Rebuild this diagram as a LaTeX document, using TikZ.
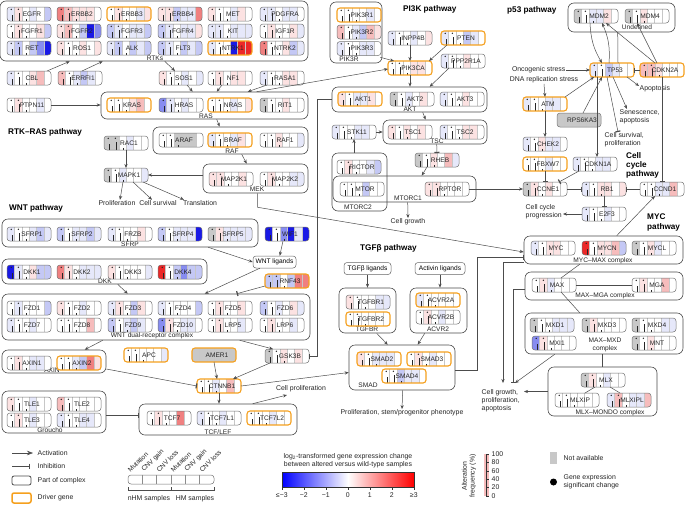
\documentclass[tikz,border=0pt]{standalone}
\usepackage{fontspec}
\setmainfont{Liberation Sans}
\usetikzlibrary{arrows.meta,calc,fit}
\colorlet{cw}{white}
\definecolor{cr1}{RGB}{252,226,226}
\definecolor{cr2}{RGB}{246,188,188}
\definecolor{cr3}{RGB}{240,128,128}
\definecolor{cr4}{RGB}{236,40,40}
\definecolor{cb1}{RGB}{230,232,250}
\definecolor{cb2}{RGB}{196,200,245}
\definecolor{cb3}{RGB}{135,140,240}
\definecolor{cb4}{RGB}{25,25,230}
\definecolor{cg}{RGB}{200,200,200}
\definecolor{drv}{RGB}{245,160,30}
\tikzset{
 gnorm/.style={draw=black!55, line width=0.5pt, rounded corners=3pt},
 gdrv/.style={draw=drv, line width=1.1pt, rounded corners=3pt},
 sepl/.style={draw=black!22, line width=0.3pt},
 gmark/.style={draw=black!85, line width=0.35pt},
 glbl/.style={font=\fontsize{6.6}{7}\selectfont, inner sep=0pt, text=black!85},
 grpbox/.style={draw=black!70, line width=0.6pt, rounded corners=6pt, inner sep=0pt},
 gl/.style={font=\fontsize{6.6}{7.4}\selectfont, inner sep=0pt, text=black!85, align=center},
 txt/.style={font=\fontsize{6.9}{7.8}\selectfont, inner sep=0.5pt, text=black!85, align=left},
 ttl/.style={font=\bfseries\fontsize{8.2}{9.2}\selectfont, inner sep=0pt, align=left},
 lig/.style={draw=black!60, line width=0.5pt, rounded corners=3pt, font=\fontsize{6.6}{7}\selectfont, inner sep=1.5pt, minimum height=12pt},
 act/.style={draw=black!70, line width=0.5pt, -{Stealth[length=4pt,width=3.2pt]}},
 inh/.style={draw=black!70, line width=0.5pt, -{Bar[width=5pt,line width=1.2pt]}},
 plainln/.style={draw=black!70, line width=0.5pt},
}
\newif\ifgmarks \gmarkstrue
% [style]{name}{x}{y}{six cell colours}
\newcommand\gene[5][gnorm]{%
  \node[minimum width=44pt, minimum height=14pt, inner sep=0pt, outer sep=0pt, anchor=north west] (#2) at (#3,#4) {};
  \begin{scope}
    \clip[rounded corners=3pt] (#2.north west) rectangle (#2.south east);
    \foreach \gc [count=\i from 0] in {#5}{\fill[fill=c\gc] ($(#2.north west)+(\i*44/6,0)$) rectangle ++(44/6,14);}
    \foreach \i in {1,...,5}{\draw[sepl] ($(#2.north west)+(\i*44/6,0)$) -- ++(0,14);}
    \ifgmarks
      \fill[black!85] ($(#2.north west)+(4.2,2.3)$) circle (0.75);
      \fill[black!85] ($(#2.north west)+(11.4,2.3)$) circle (0.75);
      \draw[gmark] ($(#2.north west)+(5.2,14)$) -- ++(0,-6);
      \draw[gmark] ($(#2.north west)+(12.6,14)$) -- ++(0,-8.5);
      \draw[gmark] ($(#2.north west)+(19.5,14)$) -- ++(0,-2.5);
    \fi
  \end{scope}
  \draw[#1] (#2.north west) rectangle (#2.south east);
  \node[glbl] at ($(#2.center)+(3,0)$) {#2};
}
\newcommand\grp[5]{\node[grpbox, fit={(#2,#3) (#4,#5)}] (#1) {};}
\begin{document}
\begin{tikzpicture}[x=1pt,y=-1pt]
\fill[white] (0,0) rectangle (685,504);
\useasboundingbox (0,0) rectangle (685,504);
% ---------------- group boxes
\grp{gRTK}{0}{1}{308}{61}
\grp{gRAS}{101}{92}{308}{119}
\grp{gRAF}{153}{127}{308}{154}
\grp{gMEK}{203}{164}{308}{193}
\grp{gPIK3R}{330}{2}{382}{63}
\grp{gAKT}{332}{87}{487}{112}
\grp{gTSC}{383}{120}{487}{144}
\grp{gMTORC2}{332}{153}{387}{211}
\grp{gMTORC1}{333}{176}{476}{202}
\grp{gMDM}{568}{3}{675}{32}
\grp{gMYCMAX}{524}{236}{683}{264}
\grp{gMAXMGA}{525}{272}{683}{300}
\grp{gMAXMXD}{525}{313}{683}{354}
\grp{gMLX}{548}{367}{657}{416}
\grp{gSFRP}{2}{219}{258}{247}
\grp{gDKK}{2}{259}{207}{284}
\grp{gFZD}{2}{294}{310}{340}
\grp{gAXIN}{2}{350}{106}{373}
\grp{gGRO}{2}{391}{106}{433}
\grp{gTCF}{139}{404}{297}{435}
\grp{gTGFBR}{339}{288}{396}{333}
\grp{gACVR}{410}{288}{467}{333}
\grp{gSMAD}{349}{345}{455}{390}
% group labels
\node[gl] (lRTK) at (155,58) {RTKs};
\node[gl] (lRAS) at (206,116) {RAS};
\node[gl] (lRAF) at (232,151) {RAF};
\node[gl] (lMEK) at (257,189.5) {MEK};
\node[gl] (lPIK3R) at (349,59.5) {PIK3R};
\node[gl] (lAKT) at (410,109) {AKT};
\node[gl] (lTSC) at (437,141) {TSC};
\node[gl] (lMTORC2) at (358,207) {MTORC2};
\node[gl] (lMTORC1) at (408,198) {MTORC1};
\node[gl] (lMDM) at (637,27.5) {Undefined};
\node[gl] (lMYCMAX) at (603,260.5) {MYC–MAX complex};
\node[gl] (lMAXMGA) at (605,296) {MAX–MGA complex};
\node[gl] (lMAXMXD) at (605,345) {MAX–MXD\\complex};
\node[gl] (lMLX) at (610,412.5) {MLX–MONDO complex};
\node[gl] (lSFRP) at (130,244) {SFRP};
\node[gl] (lDKK) at (105,281) {DKK};
\node[gl] (lFZD) at (152,336) {WNT dual-receptor complex};
\node[gl] (lAXIN) at (52,370.5) {AXIN};
\node[gl] (lGRO) at (50,430) {Groucho};
\node[gl] (lTCF) at (218,432) {TCF/LEF};
\node[gl] (lTGFBR) at (367,329.5) {TGFBR};
\node[gl] (lACVR) at (438,329.5) {ACVR2};
\node[gl] (lSMAD) at (368,385.5) {SMAD};
% ---------------- titles
\node[ttl, anchor=west] (tt1) at (8,132) {RTK–RAS pathway};
\node[ttl, anchor=west] (tt2) at (9,208) {WNT pathway};
\node[ttl, anchor=west] (tt3) at (403,9) {PI3K pathway};
\node[ttl, anchor=west] (tt4) at (507,10) {p53 pathway};
\node[ttl, anchor=west] (tt5) at (360,248) {TGFβ pathway};
\node[ttl, anchor=north west] (tt6) at (626,152) {Cell\\cycle\\pathway};
\node[ttl, anchor=north west] (tt7) at (647,214) {MYC\\pathway};
% ---------------- RTK-RAS genes
\gene{EGFR}{7}{7}{b1,r1,w,b1,w,b2}
\gene{ERBB2}{57}{7}{r3,r2,r1,r1,r1,w}
\gene[gdrv]{ERBB3}{107}{7}{w,r1,w,w,b1,r1}
\gene{ERBB4}{158}{7}{r1,r1,b2,b1,b1,r3}
\gene{MET}{208}{7}{r1,w,w,b1,r1,w}
\gene{PDGFRA}{260}{7}{b1,b1,w,b1,b1,w}
\gene{FGFR1}{7}{24}{w,r1,w,w,r1,b2}
\gene{FGFR2}{57}{24}{r1,r2,w,b2,b4,b3}
\gene{FGFR3}{107}{24}{b2,b1,w,b1,b1,b2}
\gene{FGFR4}{158}{24}{b2,b1,w,b1,b1,r1}
\gene{KIT}{208}{24}{b1,b1,w,b1,b1,b1}
\gene{IGF1R}{260}{24}{w,r1,w,w,r1,b1}
\gene{RET}{7}{41}{b1,b2,w,b2,b3,b4}
\gene{ROS1}{57}{41}{r1,w,w,r1,w,r1}
\gene{ALK}{107}{41}{b1,b2,w,b2,b1,b2}
\gene{FLT3}{158}{41}{b2,b1,w,b2,b1,b2}
\gene[gdrv]{NTRK1}{208}{41}{b1,w,w,b4,r4,r4}
\gene{NTRK2}{260}{41}{r3,w,w,r1,b2,b1}
\gene{CBL}{7}{71}{b1,w,w,r1,r2,w}
\gene{ERRFI1}{58}{71}{r2,w,b1,b2,b1,w}
\gene{SOS1}{159}{71}{r1,w,w,b1,w,b1}
\gene{NF1}{208}{71}{w,r1,w,r1,r1,w}
\gene{RASA1}{260}{71}{b1,w,w,r1,r1,w}
\gene{PTPN11}{7}{98}{w,r1,w,w,b1,w}
\gene[gdrv]{KRAS}{107}{98}{w,w,w,r1,r2,w}
\gene{HRAS}{159}{98}{b3,b1,w,b1,w,w}
\gene[gdrv]{NRAS}{208}{98}{w,w,w,b1,w,r1}
\gene{RIT1}{260}{98}{g,w,w,r1,w,w}
\gene{ARAF}{159}{133}{w,w,g,g,g,w}
\gene[gdrv]{BRAF}{208}{133}{b1,w,w,b1,r1,w}
\gene{RAF1}{260}{133}{w,w,r1,w,w,b1}
\gene{RAC1}{104}{136}{g,g,w,b1,w,w}
\gene{MAP2K1}{209}{172}{r1,r1,w,w,r1,w}
\gene{MAP2K2}{260}{172}{w,r1,w,w,b1,b1}
\gene{MAPK1}{104}{168}{g,w,b1,w,w,b1}
% ---------------- PI3K genes
\gene[gdrv]{PIK3R1}{337}{8}{w,w,w,w,b1,w}
\gene{PIK3R2}{337}{25}{r2,w,b1,b2,r2,r1}
\gene{PIK3R3}{337}{41.5}{b1,w,w,b1,b1,w}
\gene{INPP4B}{388}{31}{b1,w,w,b1,w,r1}
\gene[gdrv]{PTEN}{441}{31}{b1,w,w,b2,b1,w}
\gene[gdrv]{PIK3CA}{388}{61}{w,w,w,r1,r1,w}
\gene{PPP2R1A}{441}{54}{b1,w,w,r1,w,w}
\gene[gdrv]{AKT1}{338}{92}{r1,w,b1,b1,r1,w}
\gene{AKT2}{390}{92}{g,w,b1,w,r1,w}
\gene{AKT3}{440}{92}{b1,w,w,r1,w,w}
\gene{STK11}{332}{125}{b1,w,w,b1,b1,w}
\gene{TSC1}{388}{125}{r1,w,r1,w,r1,w}
\gene{TSC2}{440}{125}{b1,w,w,r1,r1,w}
\gene{RHEB}{415}{153}{g,w,r1,w,r2,b1}
\gene{RICTOR}{337}{160}{w,r1,w,w,b1,b2}
\gene{MTOR}{340}{182}{w,w,w,b2,w,w}
\gene{RPTOR}{425}{182}{r1,r1,w,w,w,w}
% ---------------- p53 / cell cycle genes
\gene{MDM2}{574}{9}{g,w,b1,b1,r1,w}
\gene{MDM4}{625}{9}{g,w,r1,w,w,w}
\gene[gdrv]{TP53}{590}{63}{b1,w,b2,b1,w,w}
\gene[gdrv]{CDKN2A}{640}{63}{r2,r2,r1,w,w,w}
\gene[gdrv]{ATM}{523}{97}{b1,w,w,b1,b1,w}
\gmarksfalse
\gene{RPS6KA3}{557}{113}{g,g,g,g,g,g}
\gmarkstrue
\gene{CHEK2}{523}{137}{b1,w,r1,b1,b1,w}
\gene[gdrv]{FBXW7}{523}{157}{w,w,w,b1,w,w}
\gene{CDKN1A}{573}{157}{b1,w,w,b1,b1,w}
\gene{CCNE1}{523}{182}{g,r1,w,r1,w,w}
\gene{RB1}{582}{182}{b1,w,r1,r1,w,r1}
\gene{CCND1}{640}{182}{w,w,b1,b1,r2,w}
\gene{E2F3}{582}{207}{b1,w,w,b1,w,w}
% ---------------- MYC genes
\gene{MYC}{531}{241}{b1,w,r1,r1,w,w}
\gene{MYCN}{582}{241}{r4,w,r1,r1,r2,b2}
\gene{MYCL}{632}{241}{g,w,r1,b1,w,w}
\gene{MAX}{532}{278}{w,r1,b1,w,w,w}
\gene{MGA}{632}{278}{w,r1,w,w,r2,w}
\gene{MXD1}{530}{318}{g,w,w,b1,b1,b1}
\gene{MXD3}{582}{318}{g,r1,w,w,w,w}
\gene{MXD4}{632}{318}{g,w,w,w,b1,b1}
\gene{MXI1}{532}{336}{b3,r1,w,w,w,w}
\gene{MNT}{632}{336}{g,w,r1,w,w,w}
\gene{MLX}{581}{373}{g,r1,w,b1,w,w}
\gene{MLXIP}{555}{393}{w,w,w,w,w,w}
\gene{MLXIPL}{607}{393}{b1,r2,w,b1,b1,r2}
% ---------------- WNT genes
\gene{SFRP1}{7}{227}{b1,w,w,b1,b2,b1}
\gene{SFRP2}{57}{227}{b2,w,b1,b1,b2,b1}
\gene{FRZB}{108}{227}{b1,w,w,w,r1,w}
\gene{SFRP4}{158}{227}{b2,w,b1,b1,b1,b4}
\gene{SFRP5}{208}{227}{g,r1,b1,b1,b1,b1}
\gene{WIF1}{265}{227}{b4,w,b3,b4,b1,b4}
\gene{DKK1}{7}{265}{b4,b1,w,r1,b2,b2}
\gene{DKK2}{57}{265}{r3,r1,w,b1,b1,b1}
\gene{DKK3}{108}{265}{r1,w,w,w,w,b1}
\gene{DKK4}{158}{265}{r4,w,b2,b3,b2,b2}
\gene[gdrv]{RNF43}{265}{274}{b2,b2,w,b2,r3,r3}
\gene{FZD1}{7}{301}{w,b1,w,w,w,b2}
\gene{FZD2}{57}{301}{r1,w,w,b1,w,w}
\gene{FZD3}{108}{301}{b1,r1,w,b2,r1,w}
\gene{FZD4}{158}{301}{b1,w,w,w,w,b2}
\gene{FZD5}{208}{301}{w,r1,w,w,r1,w}
\gene{FZD6}{260}{301}{b2,w,b1,w,r1,b1}
\gene{FZD7}{7}{318}{b1,w,w,b1,w,w}
\gene{FZD8}{57}{318}{w,w,w,w,r2,w}
\gene{FZD9}{108}{318}{b2,w,b1,b2,b1,w}
\gene{FZD10}{158}{318}{b3,r1,w,b1,b1,w}
\gene{LRP5}{208}{318}{w,r1,w,w,b1,w}
\gene{LRP6}{260}{318}{w,r1,w,w,b1,w}
\gene{AXIN1}{7}{356}{w,r1,w,b1,b1,w}
\gene[gdrv]{AXIN2}{57}{356}{w,w,b1,b2,r3,r1}
\gene[gdrv]{APC}{124}{348}{w,w,w,w,w,b1}
\gmarksfalse
\gene[gdrv]{AMER1}{192}{348}{g,g,g,g,g,g}
\gmarkstrue
\gene{GSK3B}{265}{349}{g,w,r1,w,r1,w}
\gene[gdrv]{CTNNB1}{197}{379}{w,w,b1,w,r2,w}
\gene{TLE1}{7}{397}{r1,w,w,b1,w,w}
\gene{TLE2}{57}{397}{r2,w,w,w,w,w}
\gene{TLE3}{7}{413}{w,r1,w,b1,w,w}
\gene{TLE4}{57}{413}{b1,w,w,b1,b1,w}
\gene{TCF7}{147}{411}{w,r1,w,w,r3,w}
\gene{TCF7L1}{197}{411}{b1,w,w,b1,w,w}
\gene[gdrv]{TCF7L2}{247}{411}{w,w,w,b1,w,w}
% ---------------- TGFb genes
\gene{TGFBR1}{346}{295}{r1,w,w,w,b1,b1}
\gene[gdrv]{TGFBR2}{346}{312}{w,w,w,w,w,w}
\gene[gdrv]{ACVR2A}{416}{293}{b1,w,w,w,w,w}
\gene{ACVR2B}{416}{310}{w,r1,w,b1,w,w}
\gene[gdrv]{SMAD2}{357}{352}{r1,w,b1,b1,b1,w}
\gene[gdrv]{SMAD3}{407}{352}{w,r1,w,b1,w,w}
\gene[gdrv]{SMAD4}{382}{369}{w,w,b2,b1,b1,w}
% ---------------- plain nodes / texts
\node[lig, minimum width=43pt] (WNTlig) at (274.5,262) {WNT ligands};
\node[lig, minimum width=47pt] (TGFlig) at (367.5,268.5) {TGFβ ligands};
\node[lig, minimum width=50pt] (ACTlig) at (440,268.5) {Activin ligands};
\node[txt] (tProlif) at (117,203) {Proliferation};
\node[txt] (tSurv) at (158,203) {Cell survival};
\node[txt] (tTrans) at (200,203) {Translation};
\node[txt] (tGrowth) at (408,222) {Cell growth};
\node[txt, anchor=east] (tOnc) at (566,70) {Oncogenic stress};
\node[txt] (tDNA) at (544,80) {DNA replication stress};
\node[txt, anchor=west] (tApop) at (639,89) {Apoptosis};
\node[txt, anchor=north west] (tSen) at (619,109) {Senescence,\\apoptosis};
\node[txt, anchor=north west] (tSurv2) at (604,132) {Cell survival,\\proliferation};
\node[txt, anchor=north west] (tCCP) at (525,204) {Cell cycle\\progression};
\node[txt, anchor=north west] (tCG) at (481,389) {Cell growth,\\proliferation,\\apoptosis};
\node[txt] (tCP) at (301,389) {Cell proliferation};
\node[txt] (tPSP) at (402,413) {Proliferation, stem/progenitor phenotype};
\coordinate (cCCP) at (563,214);
\coordinate (cCG1) at (524,391.5);
\coordinate (cCG2) at (515,383);
\coordinate (cCG3) at (503,383);
\coordinate (cCG4) at (513,383);
\coordinate (cCP) at (287,395);
% ---------------- connectors RTK-RAS
\draw[act] ($(CBL.north east)+(-4,0)$) -- ($(gRTK.south west)+(70,0)$);
\draw[act] ($(ERRFI1.north west)+(24,0)$) -- ($(gRTK.south west)+(103,0)$);
\draw[act] ($(gRTK.south west)+(165,0)$) -- ($(SOS1.north west)+(16,0)$);
\draw[act] (PTPN11.east) -- (PTPN11.east -| gRAS.west);
\draw[act] ($(SOS1.south west)+(28,0)$) -- ($(gRAS.north west)+(92,0)$);
\draw[act] ($(NF1.south west)+(14,0)$) -- ($(gRAS.north west)+(116,0)$);
\draw[act] ($(RASA1.south west)+(7,0)$) -- ($(gRAS.north west)+(147,0)$);
\draw[act] ($(gRAS.north west)+(156,0)$) -- ($(PIK3CA.west)+(0,1)$);
\draw[act] ($(gRAS.south west)+(116,0)$) -- ($(gRAF.north west)+(67,0)$);
\draw[act] (RAC1.south) -- (MAPK1.north);
\draw[act] ($(gRAF.south west)+(89,0)$) -- ($(gMEK.north west)+(44,0)$);
\draw[act] (MAPK1.east -| gMEK.west) -- (MAPK1.east);
\draw[act] ($(MAPK1.south west)+(19,0)$) -- ($(tProlif.north)+(3,0)$);
\draw[act] ($(MAPK1.south west)+(29,0)$) -- ($(tSurv.north)+(-6,0)$);
\draw[act] ($(MAPK1.south west)+(39,0)$) -- ($(tTrans.north)+(-16,0)$);
\draw[act] ($(gMEK.south west)+(55,0)$) -- ++(0,14) -- ($(gMYCMAX.west)+(0,2)$);
% ---------------- connectors PI3K
\draw[act] ($(gPIK3R.south east)+(-2,-6)$) -- ($(PIK3CA.north west)+(6,0)$);
\draw[act] (INPP4B.south) -- (PIK3CA.north);
\draw[act] ($(PTEN.south west)+(6,0)$) -- ($(PIK3CA.north east)+(-3,0)$);
\draw[act] (PIK3CA.south) -- (PIK3CA.south |- gAKT.north);
\draw[act] ($(PPP2R1A.south west)+(8,0)$) -- ($(gAKT.north west)+(98,0)$);
\draw[act] ($(gAKT.south west)+(91,0)$) -- ($(gTSC.north west)+(43,0)$);
\draw[act] (STK11.east) -- (STK11.east -| gTSC.west);
\draw[act] (STK11.south |- gMTORC2.north) -- (STK11.south);
\draw[inh] ($(gTSC.south west)+(54,0)$) -- ($(RHEB.north west)+(22,0)$);
\draw[act] ($(RHEB.south west)+(12,0)$) -- ($(gMTORC1.north west)+(89,0)$);
\draw[act] ($(gMTORC1.south west)+(75,0)$) -- (tGrowth.north);
\draw[act] (RPTOR.east) -- (CCNE1.west);
\draw[inh] (gAKT.west) -- ++(-14,0) |- (GSK3B.east);
% ---------------- connectors p53
\draw[act] ($(MDM2.south west)+(16,0)$) to[bend right=14] ($(TP53.north west)+(12,0)$);
\draw[act] ($(TP53.north west)+(19,0)$) to[bend right=14] ($(MDM2.south west)+(28,0)$);
\draw[plainln] ($(TP53.north west)+(28,0)$) -- ($(gMDM.south west)+(50,0)$);
\draw[act] ($(CDKN2A.north west)+(15,0)$) -- ($(MDM2.south east)+(-12,0)$);
\draw[act] ($(CDKN2A.north west)+(17,0)$) -- ($(MDM4.south west)+(12,0)$);
\draw[inh] (CDKN2A.west) -- (TP53.east);
\draw[inh] ($(CDKN2A.south west)+(22,0)$) -- ($(CCND1.north west)+(22,0)$);
\draw[act] (tOnc.east) -- (tOnc.east -| TP53.west);
\draw[act] (tDNA.south) -- (ATM.north);
\draw[act] ($(ATM.north east)+(-2,0)$) -- ($(TP53.south west)+(4,0)$);
\draw[act] (ATM.south) -- (CHEK2.north);
\draw[act] ($(RPS6KA3.north west)+(26,0)$) -- ($(TP53.south west)+(12,0)$);
\draw[act] ($(TP53.south west)+(7,0)$) -- ($(CDKN1A.north west)+(24,0)$);
\draw[inh] ($(TP53.south west)+(17,0)$) -- ($(tSurv2.north west)+(14,0)$);
\draw[act] ($(TP53.south west)+(23,0)$) -- ($(tSen.north west)+(8,0)$);
\draw[act] ($(TP53.south east)+(-7,0)$) -- ($(tApop.west)+(0,-3)$);
% ---------------- connectors cell cycle
\draw[inh] (FBXW7.south) -- (CCNE1.north);
\draw[inh] ($(CDKN1A.south west)+(6,0)$) -- ($(CCNE1.north east)+(-8,0)$);
\draw[inh] (CCNE1.east) -- (RB1.west);
\draw[inh] (CCND1.west) -- (RB1.east);
\draw[inh] (RB1.south) -- (E2F3.north);
\draw[act] (E2F3.west) -- (cCCP);
% ---------------- connectors MYC
\draw[act] ($(gMYCMAX.north west)+(93,0)$) -- ($(CCND1.south west)+(15,0)$);
\draw[plainln] ($(gMYCMAX.south west)+(56,0)$) -- ($(MAX.north east)+(-15,0)$);
\draw[plainln] ($(MAX.south east)+(-15,0)$) -- ($(gMAXMXD.north west)+(55,0)$);
\draw[plainln] (MAX.east) -- (MGA.west);
\draw[plainln] ($(gMAXMXD.south west)+(78,0)$) -- ($(gMLX.north west)+(55,0)$);
\draw[plainln] ($(MLX.south west)+(14,0)$) -- ($(MLXIP.north west)+(30,0)$);
\draw[plainln] ($(MLX.south west)+(29,0)$) -- ($(MLXIPL.north west)+(13,0)$);
\draw[act] (gMLX.west) -- (cCG1);
\draw[act] ($(gMAXMXD.south west)+(30,0)$) -- (cCG2);
\draw[act] ($(gMYCMAX.south west)+(0,-2)$) -| (cCG3);
\draw[inh] ($(gMAXMGA.west)+(0,3)$) -| (cCG4);
\draw[inh] ($(gSMAD.east)+(0,2.5)$) -- ++(22,0) |- ($(gMYCMAX.west)+(0,7)$);
% ---------------- connectors WNT
\draw[act] ($(gSFRP.south east)+(-50,0)$) -- (WNTlig.west);
\draw[act] ($(WIF1.south west)+(18,0)$) -- ($(WNTlig.north west)+(27,0)$);
\draw[act] ($(WNTlig.south west)+(7,0)$) -- ($(gFZD.north west)+(203,0)$);
\draw[act] ($(gDKK.south west)+(116,0)$) -- ($(gFZD.north west)+(126,0)$);
\draw[inh] ($(RNF43.south west)+(0,-2)$) -- ($(gFZD.north west)+(235,0)$);
\draw[act] ($(gFZD.south west)+(101,0)$) -- ($(gAXIN.north west)+(83,0)$);
\draw[act] ($(gFZD.south west)+(238,0)$) -- ($(GSK3B.north west)+(8,0)$);
\draw[inh] ($(gAXIN.east)+(0,7.5)$) -- (CTNNB1.west);
\draw[act] (AMER1.south) -- ($(CTNNB1.north west)+(20,0)$);
\draw[act] ($(GSK3B.south west)+(5,0)$) -- ($(CTNNB1.north east)+(-8,0)$);
\draw[act] (CTNNB1.south) -- (CTNNB1.south |- gTCF.north);
\draw[act] (CTNNB1.east) -- ($(gSMAD.west)+(0,5)$);
\draw[act] ($(gTCF.north west)+(114,0)$) -- (cCP);
\draw[inh] ($(gGRO.east)+(0,3)$) -- ($(gTCF.west)+(0,-4.5)$);
% ---------------- connectors TGFb
\draw[act] (TGFlig.south) -- (TGFlig.south |- gTGFBR.north);
\draw[act] (ACTlig.south) -- (ACTlig.south |- gACVR.north);
\draw[act] ($(gTGFBR.south west)+(38,0)$) -- ($(gSMAD.north west)+(39,0)$);
\draw[act] ($(gACVR.south west)+(15,0)$) -- ($(gSMAD.north west)+(69,0)$);
\draw[act] ($(gSMAD.south west)+(54,0)$) -- (tPSP.north);
% ---------------- legend
\coordinate (la1) at (12,453); \coordinate (la2) at (33,453);
\draw[act, -{Stealth[length=6pt,width=4.5pt]}] (la1) -- (la2);
\node[txt, anchor=west] (lgAct) at (37,453) {Activation};
\coordinate (li1) at (12,466); \coordinate (li2) at (30,466);
\draw[inh] (li1) -- (li2);
\node[txt, anchor=west] (lgInh) at (37,466) {Inhibition};
\node[draw=black!70, line width=0.8pt, rounded corners=2pt, fit={(12,476) (31,485)}, inner sep=0pt] (lgBox) {};
\node[txt, anchor=west] (lgBoxT) at (37,480.5) {Part of complex};
\node[draw=drv, line width=1.5pt, rounded corners=2pt, fit={(12,493) (31,503)}, inner sep=0pt] (lgDrv) {};
\node[txt, anchor=west] (lgDrvT) at (37,498) {Driver gene};
% strip
\node[draw=black!55, line width=0.5pt, rounded corners=3pt, fit={(128,475) (214,484)}, inner sep=0pt] (lgStrip) {};
\foreach \k in {1,...,5}{\draw[black!45, line width=0.4pt] ($(lgStrip.north west)+(\k*86/6,0)$) -- ++(0,9);}
\foreach \t [count=\k from 0] in {Mutation,CNV gain,CNV loss,Mutation,CNV gain,CNV loss}
  {\node[txt, font=\fontsize{6.6}{7}\selectfont, rotate=45, anchor=south west] at ($(lgStrip.north west)+(3+\k*86/6,-1)$) {\t};}
\draw[black!70, line width=0.5pt] ($(lgStrip.south west)+(0,3)$) -- ++(0,3) -- ++(86,0) -- ++(0,-3);
\draw[black!70, line width=0.5pt] ($(lgStrip.south west)+(43,6)$) -- ++(0,-3);
\node[txt] (lgNHM) at (149,499) {nHM samples};
\node[txt] (lgHM) at (195,499) {HM samples};
% colour bar
\node[txt, align=center] (cbT) at (348,461) {log\textsubscript{2}-transformed gene expression change\\between altered versus wild-type samples};
\shade[left color=blue, right color=red, middle color=white] (282,472) rectangle (414,487);
\node[draw=black!80, line width=0.4pt, fit={(282,472) (414,487)}, inner sep=0pt] (cbar) {};
\foreach \v/\lab in {0/{≤−3},1/{−2},2/{−1},3/{0},4/{1},5/{2},6/{≥3}}
  {\draw[black!80, line width=0.4pt] ($(cbar.south west)+(\v*22,0)$) -- ++(0,2.5);
   \node[txt] at ($(cbar.south west)+(\v*22,7.5)$) {\lab};}
% alteration frequency
\node[txt, rotate=90, align=center] (afT) at (469,476) {Alteration\\frequency (\%)};
\fill[cr2] (484,454) rectangle (489,496);
\draw[black!80, line width=0.5pt] (486,454) -- (486,496);
\foreach \v [count=\k from 0] in {100,80,60,40,20,0}
  {\draw[black!80, line width=0.5pt] (486,454+\k*8.4) -- ++(2.5,0);
   \node[txt, anchor=west] at (491,454+\k*8.4) {\v};}
\node[fill=cg, minimum width=7pt, minimum height=12pt, inner sep=0pt] (naBox) at (553.5,458) {};
\node[txt, anchor=west] (naT) at (563,458) {Not available};
\node[circle, fill=black, minimum size=7pt, inner sep=0pt] (dotL) at (553.5,482) {};
\node[txt, anchor=west] (dotT) at (563,482) {Gene expression\\significant change};
\end{tikzpicture}
\end{document}
